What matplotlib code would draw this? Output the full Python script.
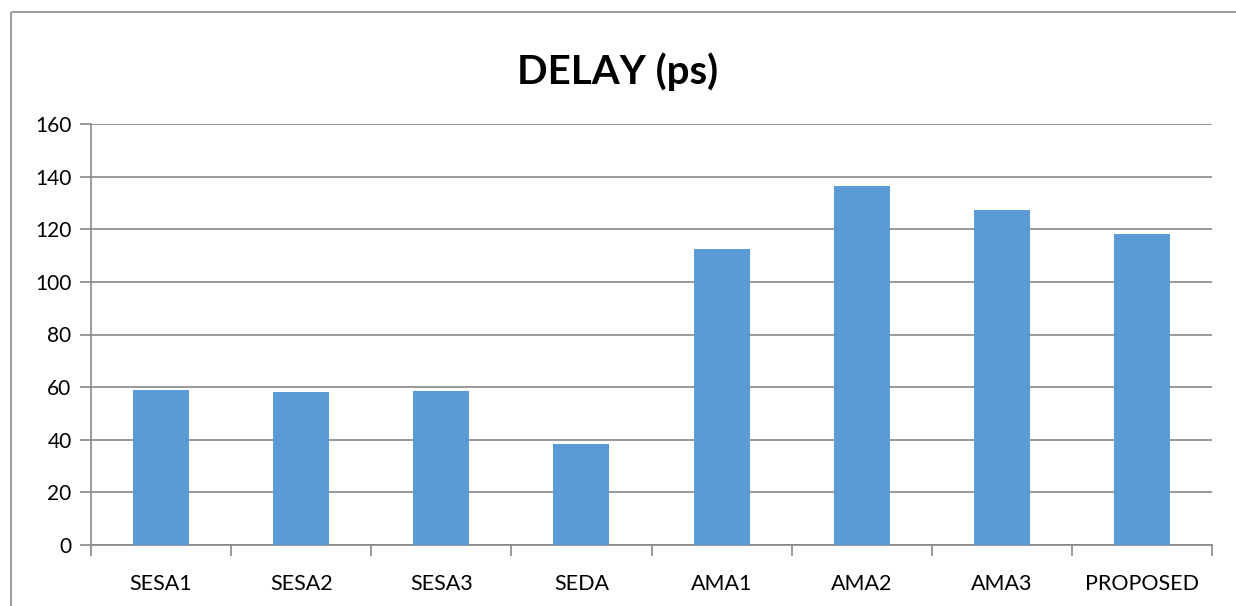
import matplotlib
matplotlib.use("Agg")
import matplotlib.pyplot as plt
from matplotlib.lines import Line2D
import numpy as np

categories = ["SESA1", "SESA2", "SESA3", "SEDA", "AMA1", "AMA2", "AMA3", "PROPOSED"]
delay = [59.0, 58.1, 58.6, 38.4, 112.4, 136.3, 127.2, 118.1]
yticks = [0, 20, 40, 60, 80, 100, 120, 140, 160]

plt.rcParams['font.family'] = ['Lato', 'DejaVu Sans']

W, H = 1236, 606
fig = plt.figure(figsize=(W / 100, H / 100), dpi=100)
bx, by = 10.5 / W, 1 - 11.5 / H
fig.lines.append(Line2D([bx, 1.02], [by, by], transform=fig.transFigure,
                        color="#8c8c8c", linewidth=1.2, solid_capstyle="butt"))
fig.lines.append(Line2D([bx, bx], [-0.02, by], transform=fig.transFigure,
                        color="#8c8c8c", linewidth=1.2, solid_capstyle="butt"))

ax = fig.add_axes([91 / W, 1 - 545 / H, (1212 - 91) / W, (545 - 124) / H])
x = np.arange(len(categories))
ax.bar(x, delay, width=0.4, color="#5B9BD5", zorder=3)

ax.set_xlim(-0.5, len(categories) - 0.5)
ax.set_ylim(0, 160)
ax.set_yticks(yticks)
ax.set_yticklabels([str(v) for v in yticks], fontsize=15)
ax.tick_params(axis='y', length=8, color="#878787", width=1.2, pad=6)
ax.yaxis.grid(True, color="#878787", linewidth=1.2, zorder=0)

ax.set_xticks(x)
ax.set_xticklabels(categories, fontsize=15.5)
ax.tick_params(axis='x', length=0, pad=21)
ax.set_xticks(np.arange(-0.5, len(categories)), minor=True)
ax.tick_params(axis='x', which='minor', length=8, color="#878787", width=1.2)

for s in ["top", "right"]:
    ax.spines[s].set_visible(False)
for s in ["left", "bottom"]:
    ax.spines[s].set_color("#878787")
    ax.spines[s].set_linewidth(1.2)

fig.text(0.5, 1 - 72 / H, "DELAY (ps)", ha="center", va="center",
         fontsize=29, fontweight="bold")

fig.savefig("out.png", dpi=100)
